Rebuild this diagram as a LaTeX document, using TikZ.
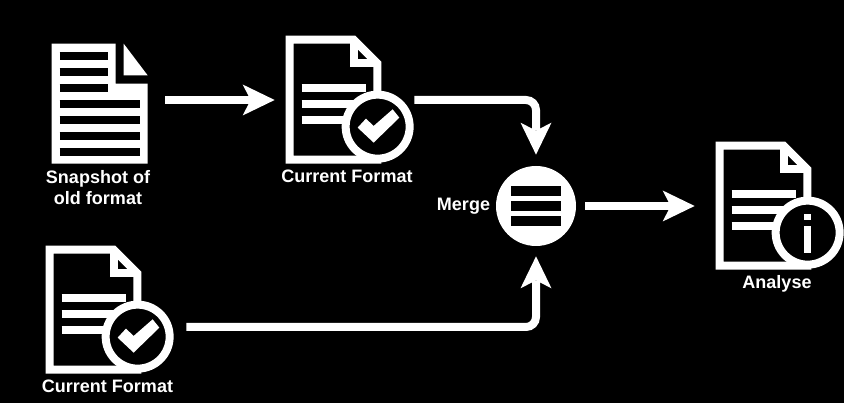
\documentclass[tikz,border=0pt]{standalone}
\usepackage{fontspec}
\setmainfont{Liberation Sans}
\usepackage{tikz}
\usepackage{xcolor}
\usetikzlibrary{arrows.meta}

\tikzset{
  iconbox/.style={minimum size=2.56cm,inner sep=0pt},
  flow/.style={draw=white,line width=0.16cm,rounded corners=0.2cm,
    -{Stealth[length=0.64cm,width=0.62cm,inset=0.16cm,line width=0pt]}},
  lbl/.style={text=white,anchor=base},
  pics/docbase/.style={code={
    \draw[white,line width=0.16cm,miter limit=10] (0.08,-0.08) -- (1.36,-0.08) -- (1.834,-0.554) -- (1.834,-2.48) -- (0.08,-2.48) -- cycle;
    \draw[white,line width=0.16cm] (1.36,-0.08) -- (1.36,-0.554) -- (1.834,-0.554);
    \foreach \ypos in {-1.04,-1.36,-1.68}
      \draw[white,line width=0.16cm] (0.32,\ypos) -- (1.6,\ypos);
    \draw[white,fill=black,line width=0.16cm] (1.84,-1.82) circle (0.64);
  }},
  pics/checkdoc/.style={code={
    \pic {docbase};
    \fill[white,shift={(1.84,-1.82)}] (-0.4,-0.02) -- (-0.234,0.16) -- (-0.08,0.014) -- (0.3,0.346) -- (0.434,0.18) -- (-0.08,-0.32) -- cycle;
  }},
  pics/infodoc/.style={code={
    \pic {docbase};
    \fill[white] (1.766,-1.44) rectangle (1.914,-1.574);
    \fill[white] (1.766,-1.68) rectangle (1.914,-2.22);
  }},
  pics/olddoc/.style={code={
    \fill[white] (0,0) -- (1.28,0) -- (1.28,-0.8) -- (1.92,-0.8) -- (1.92,-2.4) -- (0,-2.4) -- cycle;
    \fill[white] (1.44,0) -- (1.92,-0.634) -- (1.44,-0.634) -- cycle;
    \foreach \ypos in {-0.24,-0.56,-0.88}
      \draw[black,line width=0.16cm] (0.16,\ypos) -- (1.12,\ypos);
    \foreach \ypos in {-1.2,-1.52,-1.84,-2.16}
      \draw[black,line width=0.16cm] (0.16,\ypos) -- (1.76,\ypos);
  }}
}

\begin{document}
\begin{tikzpicture}[font=\fontsize{10.25}{12.4}\selectfont\bfseries]
  \useasboundingbox (0,0) rectangle (16.88,8.06);
  \fill[black] (0,0) rectangle (16.88,8.06);

  \node[minimum width=1.92cm,minimum height=2.4cm,inner sep=0pt] (snapshot) at (2,5.98) {};
  \node[iconbox] (current) at (7,6.06) {};
  \node[iconbox] (recent) at (2.2,1.86) {};
  \node[iconbox] (analyse) at (15.6,3.94) {};
  \node[circle,fill=white,minimum size=1.6cm,inner sep=0pt] (merge) at (10.72,3.94) {};

  \pic at (snapshot.north west) {olddoc};
  \pic at (current.north west) {checkdoc};
  \pic at (recent.north west) {checkdoc};
  \pic at (analyse.north west) {infodoc};

  \foreach \ypos in {3.94,4.24,3.64}
    \fill[black] (10.22,\ypos-0.1) rectangle (11.22,\ypos+0.1);

  \node[lbl,align=center,anchor=center] (snapshotlbl) at (1.96,4.31) {Snapshot of\\old format};
  \node[lbl] (currentlbl) at (6.94,4.41) {Current Format};
  \node[lbl] (recentlbl) at (2.15,0.21) {Current Format};
  \node[lbl] (analyselbl) at (15.54,2.29) {Analyse};
  \node[lbl] (mergelbl) at (9.27,3.85) {Merge};

  \draw[flow,shorten <=0.34cm,shorten >=0.22cm] (snapshot.east |- current.west) -- (current.west);
  \draw[flow,shorten >=0.22cm] (current.east) -| (merge.north);
  \draw[flow,shorten <=0.24cm,shorten >=0.2cm] ([yshift=-0.34cm]recent.east) -| (merge.south);
  \draw[flow,shorten <=0.18cm,shorten >=0.42cm] (merge.east) -- (analyse.west);
\end{tikzpicture}
\end{document}
